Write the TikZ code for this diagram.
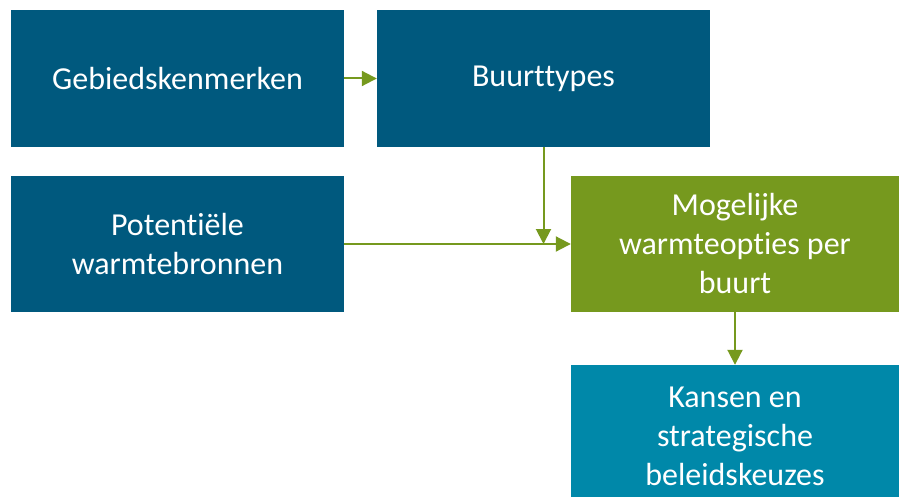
\documentclass[tikz,border=0pt]{standalone}
\usepackage{fontspec}
\setmainfont[Ligatures=NoCommon]{Carlito}
\usetikzlibrary{arrows.meta}
\definecolor{donkerblauw}{RGB}{0,89,126}
\definecolor{groen}{RGB}{118,153,30}
\definecolor{petrol}{RGB}{0,136,169}
\begin{document}
\begin{tikzpicture}[x=1pt,y=-1pt,
    blok/.style={fill=donkerblauw, text=white, inner sep=0pt, align=center,
      minimum width=333pt, minimum height=137pt,
      font=\fontsize{32}{39}\selectfont},
    pijl/.style={-{Triangle[width=15pt,length=15pt]}, line width=2pt, draw=groen}]
      \useasboundingbox (0,0) rectangle (899,497);
      \node[blok] (gebied) at (177.5,78.5) {Gebiedskenmerken};
      \node[blok] (buurt) at (543.5,78.5) {Buurttypes};
      \node[blok, minimum height=135pt] (bronnen) at (177.5,244) {Potenti\"ele\\warmtebronnen};
      \node[blok, fill=groen, minimum width=328pt, minimum height=136pt] (opties) at (735,244) {Mogelijke\\warmteopties per\\buurt};
      \node[blok, fill=petrol, minimum width=328pt, minimum height=142pt] (kansen) at (735,436) {Kansen en\\strategische\\beleidskeuzes};
      \draw[pijl] (gebied) -- (buurt);
      \draw[pijl] (bronnen) -- (opties);
      \draw[pijl] (buurt.south) -- (buurt.south |- opties.west);
      \draw[pijl] (opties) -- (kansen);
    \end{tikzpicture}
\end{document}
